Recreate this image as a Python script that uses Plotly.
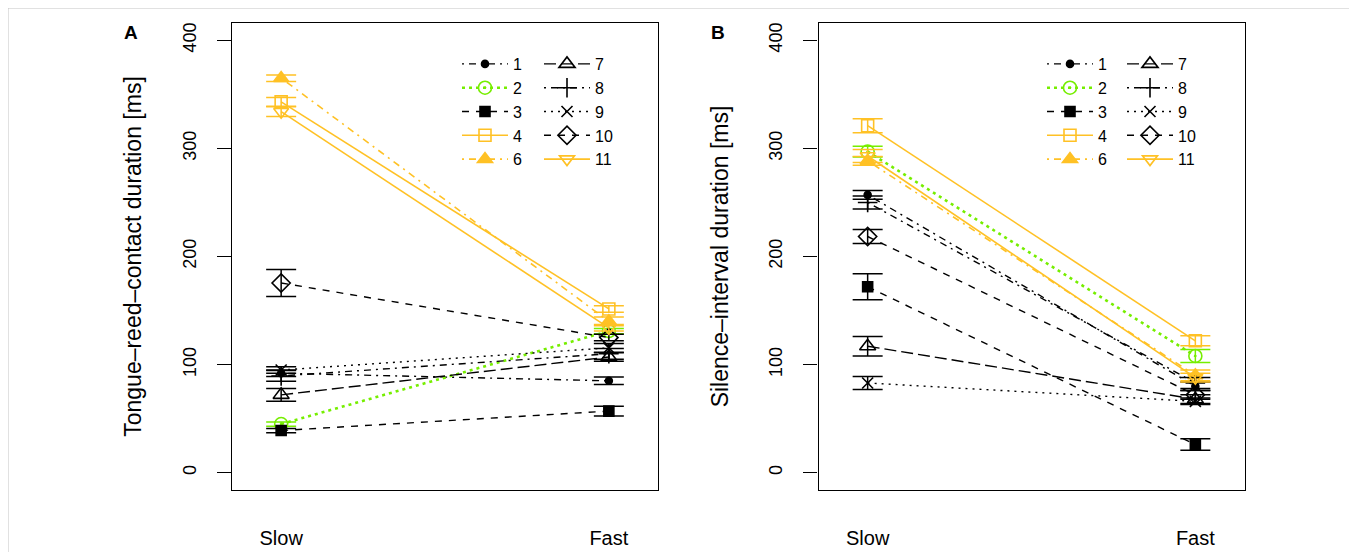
import plotly.graph_objects as go

# ---------------- data ----------------
conditions = ["Slow", "Fast"]
cond_x = [1, 2]
subjects = ["1", "2", "3", "4", "6", "7", "8", "9", "10", "11"]

tongue_slow = [92, 45, 39, 343, 365, 72, 89.5, 95, 175.5, 334]
tongue_slow_err = [3, 2, 2, 4, 3, 6, 5, 3, 12.5, 4.5]
tongue_fast = [85, 131, 57, 151.5, 140, 107, 110, 115.5, 125, 134]
tongue_fast_err = [3.5, 2.5, 4.5, 3, 4, 4, 5, 4, 3, 3]

silence_slow = [257, 297, 172, 321, 288.5, 117, 250, 83, 218.5, 293]
silence_slow_err = [4, 5, 12, 6.5, 4, 9, 6, 6, 6.5, 6]
silence_fast = [80, 108, 26, 122, 90, 68, 83, 66, 72, 88]
silence_fast_err = [4, 6, 5.3, 4.6, 5, 4, 5, 3, 4, 4]

y_ticks = [0, 100, 200, 300, 400]

# ---------------- styles ----------------
BLACK = "#000000"
ORANGE = "#FFC125"
GREEN = "#76EE00"
DOTDASH = "2px,5px,7px,5px"
DASHED = "7px,7px"
DOTTED = "2px,5px"
LONGDASH = "12px,5px"
styles = {
    "1": dict(color=BLACK, dash=DOTDASH, width=1.4, symbol="circle", size=7),
    "2": dict(color=GREEN, dash="3px,4px", width=2.6, symbol="circle-open-dot", size=13),
    "3": dict(color=BLACK, dash=DASHED, width=1.4, symbol="square", size=10),
    "4": dict(color=ORANGE, dash="solid", width=1.6, symbol="square-open", size=12),
    "6": dict(color=ORANGE, dash=DOTDASH, width=1.6, symbol="triangle-up", size=13),
    "7": dict(color=BLACK, dash=LONGDASH, width=1.4, symbol="triangle-up-open", size=14),
    "8": dict(color=BLACK, dash=DOTDASH, width=1.4, symbol="cross-thin-open", size=14),
    "9": dict(color=BLACK, dash=DOTTED, width=1.4, symbol="x-thin-open", size=11),
    "10": dict(color=BLACK, dash=DASHED, width=1.4, symbol="diamond-open", size=14),
    "11": dict(color=ORANGE, dash="solid", width=1.6, symbol="triangle-down-open", size=13),
}
col1 = ["1", "2", "3", "4", "6"]

FONT = "Liberation Sans, Arial, Helvetica, sans-serif"
W, H = 1357, 552
OFF = 8  # the page body offsets the figure by 8 px

fig = go.Figure()

panels = [
    ("x", "y", tongue_slow, tongue_slow_err, tongue_fast, tongue_fast_err, ("legend", "legend2")),
    ("x2", "y2", silence_slow, silence_slow_err, silence_fast, silence_fast_err, ("legend3", "legend4")),
]
for xa, ya, slow, slow_e, fast, fast_e, legs in panels:
    for i, s in enumerate(subjects):
        st = styles[s]
        fig.add_trace(go.Scatter(
            x=cond_x, y=[slow[i], fast[i]],
            error_y=dict(type="data", array=[slow_e[i], fast_e[i]], color=st["color"],
                         thickness=1.5, width=15),
            mode="lines+markers", name=s,
            line=dict(color=st["color"], dash=st["dash"], width=st["width"]),
            marker=dict(symbol=st["symbol"], size=st["size"], color=st["color"],
                        line=dict(color=st["color"], width=1.6)),
            xaxis=xa, yaxis=ya,
            legend=legs[0] if s in col1 else legs[1],
        ))


def px_x(p):
    return (p - OFF) / W


def px_y(p):
    return (H - (p - OFF)) / H


ydom = [px_y(490), px_y(23)]
axis_common = dict(showline=True, mirror=True, linecolor="black", linewidth=1.3,
                   showgrid=False, zeroline=False)
for xa_name, ya_name, x0, x1, title in [
    ("xaxis", "yaxis", 232, 658, "Tongue–reed–contact duration [ms]"),
    ("xaxis2", "yaxis2", 818.5, 1244.5, "Silence–interval duration [ms]"),
]:
    anchor_y = "y" if ya_name == "yaxis" else "y2"
    anchor_x = "x" if xa_name == "xaxis" else "x2"
    fig.update_layout({
        xa_name: dict(domain=[px_x(x0), px_x(x1)], range=[0.85, 2.15], anchor=anchor_y,
                      tickvals=cond_x, ticktext=conditions, ticks="",
                      ticklabelstandoff=30,
                      tickfont=dict(size=20, family=FONT, color="black"), **axis_common),
        ya_name: dict(domain=ydom, range=[-16, 416], anchor=anchor_x,
                      tickvals=y_ticks, ticks="outside", ticklen=14, tickwidth=1.3,
                      tickcolor="black", tickangle=-90, ticklabelstandoff=14,
                      tickfont=dict(size=18, family=FONT, color="black"),
                      title=dict(text=title, font=dict(size=23, family=FONT, color="black"),
                                 standoff=31),
                      **axis_common),
    })

leg_common = dict(font=dict(size=16, family=FONT, color="black"), bgcolor="rgba(0,0,0,0)",
                  borderwidth=0, xanchor="left", yanchor="top", itemwidth=46,
                  tracegroupgap=0, itemclick=False)
legend_top = px_y(47)
fig.update_layout(
    legend=dict(x=px_x(457), y=legend_top, **leg_common),
    legend2=dict(x=px_x(539), y=legend_top, **leg_common),
    legend3=dict(x=px_x(1042), y=legend_top, **leg_common),
    legend4=dict(x=px_x(1122), y=legend_top, **leg_common),
)

ann_font = dict(size=19, family=FONT, color="black")
fig.add_annotation(text="<b>A</b>", x=px_x(131), y=px_y(33), xref="paper", yref="paper",
                   xanchor="center", yanchor="middle", showarrow=False, font=ann_font)
fig.add_annotation(text="<b>B</b>", x=px_x(717.5), y=px_y(33), xref="paper", yref="paper",
                   xanchor="center", yanchor="middle", showarrow=False, font=ann_font)

fig.add_shape(type="rect", xref="paper", yref="paper", x0=px_x(8), x1=px_x(1349.5),
              y0=-0.05, y1=px_y(8), line=dict(color="#c4c4c4", width=1), layer="below")

fig.update_layout(width=W, height=H, margin=dict(l=0, r=0, t=0, b=0),
                  plot_bgcolor="white", paper_bgcolor="white",
                  font=dict(family=FONT, color="black"))

fig.write_html("out.html")
